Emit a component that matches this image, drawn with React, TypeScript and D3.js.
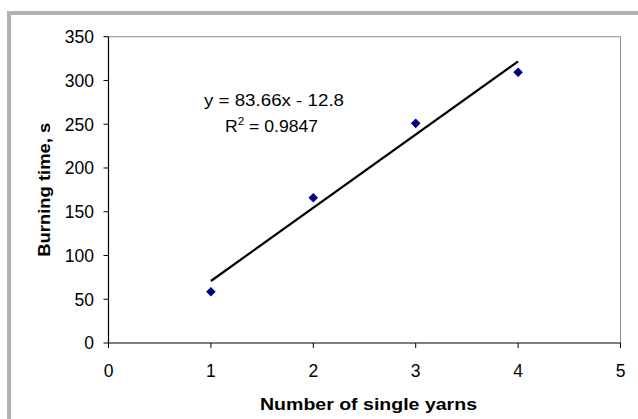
import React from "react";
import * as d3 from "d3";

// data
const yarns = [1, 2, 3, 4];
const burningTime = [58.6, 166, 251, 309.4];
const trendSlope = 83.66;
const trendIntercept = -12.8;
const xTicks = [0, 1, 2, 3, 4, 5];
const yTicks = [0, 50, 100, 150, 200, 250, 300, 350];
const equationText = "y = 83.66x - 12.8";
const r2Value = "0.9847";

const font = "'Liberation Sans', Arial, sans-serif";

export default function App() {
  const width = 638;
  const height = 419;
  const plot = { left: 108.5, right: 620.5, top: 36.7, bottom: 343 };

  const xScale = d3.scaleLinear().domain([0, 5]).range([plot.left, plot.right]);
  const yScale = d3.scaleLinear().domain([0, 350]).range([plot.bottom, plot.top]);

  const points = yarns.map((x, i) => ({ x, y: burningTime[i] }));
  const xMin = d3.min(yarns) as number;
  const xMax = d3.max(yarns) as number;
  const trend = [xMin, xMax].map(x => ({ x, y: trendSlope * x + trendIntercept }));

  const trendLine = d3.line<{ x: number; y: number }>()
    .x(d => xScale(d.x))
    .y(d => yScale(d.y));

  const diamond = d3.symbol().type(d3.symbolSquare).size(46)();

  return (
    <svg width={width} height={height} style={{ position: "absolute", left: 0, top: 0, background: "#fff" }}>
      {/* chart frame */}
      <rect x={9} y={13} width={width + 20} height={height + 20} fill="#fff" stroke="#b2b2b2" strokeWidth={4} />

      {/* plot border: top and right */}
      <path d={`M${plot.left},${plot.top}H${plot.right}V${plot.bottom}`} fill="none" stroke="#8c8c8c" strokeWidth={1} />

      {/* y axis */}
      <line x1={plot.left} x2={plot.left} y1={plot.top} y2={plot.bottom} stroke="#000" strokeWidth={1.2} />
      {yTicks.map(t => (
        <g key={t}>
          <line x1={plot.left - 5} x2={plot.left} y1={yScale(t)} y2={yScale(t)} stroke="#000" />
          <text x={94} y={yScale(t)} dy="0.36em" textAnchor="end" fontSize={17.5} fontFamily={font} fill="#000">{t}</text>
        </g>
      ))}

      {/* x axis */}
      <line x1={plot.left} x2={plot.right} y1={plot.bottom} y2={plot.bottom} stroke="#000" strokeWidth={1.2} />
      {xTicks.map(t => (
        <g key={t}>
          <line x1={xScale(t)} x2={xScale(t)} y1={plot.bottom} y2={plot.bottom + 5} stroke="#000" />
          <text x={xScale(t)} y={376.5} textAnchor="middle" fontSize={17.5} fontFamily={font} fill="#000">{t}</text>
        </g>
      ))}

      {/* trend line */}
      <path d={trendLine(trend) || ""} fill="none" stroke="#000" strokeWidth={2.2} />

      {/* data points */}
      {points.map((p, i) => (
        <path key={i} d={diamond || ""} transform={`translate(${xScale(p.x)},${yScale(p.y)}) rotate(45)`} fill="#000080" />
      ))}

      {/* trend equation */}
      <text x={204} y={106} fontSize={16.5} fontFamily={font} fill="#000" textLength={140} lengthAdjust="spacingAndGlyphs">{equationText}</text>
      <text x={225} y={131.5} fontSize={16.5} fontFamily={font} fill="#000" textLength={93} lengthAdjust="spacingAndGlyphs">
        R<tspan dy={-7} fontSize={11}>2</tspan><tspan dy={7}>{" = " + r2Value}</tspan>
      </text>

      {/* axis titles */}
      <text x={260} y={410} fontSize={16.5} fontWeight="bold" fontFamily={font} fill="#000" textLength={217} lengthAdjust="spacingAndGlyphs">Number of single yarns</text>
      <text transform="translate(50,256.7) rotate(-90)" x={0} y={0} fontSize={16.5} fontWeight="bold" fontFamily={font} fill="#000" textLength={134} lengthAdjust="spacingAndGlyphs">Burning time, s</text>
    </svg>
  );
}
